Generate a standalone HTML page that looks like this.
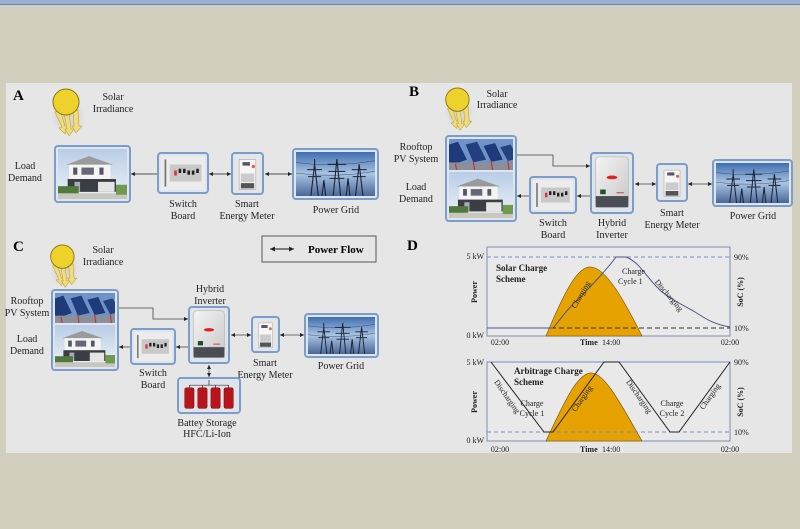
<!DOCTYPE html>
<html><head><meta charset="utf-8"><style>
html,body{margin:0;padding:0;background:#d3cfbe;}
svg{display:block;font-family:"Liberation Serif",serif;}
</style></head><body>
<svg width="800" height="529" viewBox="0 0 800 529" xmlns="http://www.w3.org/2000/svg">
<defs>
<linearGradient id="sky" x1="0" y1="0" x2="0" y2="1"><stop offset="0" stop-color="#b8cde6"/><stop offset="1" stop-color="#eef2f6"/></linearGradient>
<linearGradient id="gsky" x1="0" y1="0" x2="0" y2="1"><stop offset="0" stop-color="#3f6fb0"/><stop offset="0.5" stop-color="#a9c3e2"/><stop offset="1" stop-color="#4a6898"/></linearGradient>
<linearGradient id="inv" x1="0" y1="0" x2="1" y2="1"><stop offset="0" stop-color="#f4f4f4"/><stop offset="1" stop-color="#c8c8c8"/></linearGradient>
<radialGradient id="glow"><stop offset="0.5" stop-color="#d6d6d6"/><stop offset="1" stop-color="#e6e6e6" stop-opacity="0"/></radialGradient>
<symbol id="house" viewBox="0 0 100 70" preserveAspectRatio="none">
<rect width="100" height="70" fill="url(#sky)"/>
<polygon points="12,22 45,10 80,22" fill="#9a9a9a"/>
<rect x="16" y="22" width="60" height="20" fill="#f4f4f4"/>
<rect x="22" y="26" width="6" height="10" fill="#556"/><rect x="34" y="26" width="18" height="10" fill="#667"/><rect x="60" y="26" width="6" height="10" fill="#556"/>
<rect x="14" y="42" width="70" height="18" fill="#3a3d44"/>
<rect x="58" y="46" width="24" height="14" fill="#e4e4e4"/>
<rect x="24" y="46" width="8" height="14" fill="#aab"/>
<rect x="0" y="52" width="30" height="12" fill="#4f7a3a"/><rect x="0" y="62" width="100" height="8" fill="#c9c6bd"/>
<rect x="84" y="50" width="16" height="14" fill="#6f9a50"/>
</symbol>
<symbol id="pv" viewBox="0 0 100 45" preserveAspectRatio="none">
<rect width="100" height="45" fill="#6f93c8"/>
<polygon points="0,8 14,4 28,30 10,36 0,34" fill="#1f3a7a"/>
<polygon points="26,8 44,4 58,30 38,34" fill="#22407f"/>
<polygon points="54,10 72,6 84,30 66,33" fill="#1f3a7a"/>
<polygon points="80,12 96,8 100,14 100,30 92,32" fill="#24427f"/>
<rect x="0" y="34" width="100" height="11" fill="#8a8f9a"/>
<path d="M10 36 L12 45 M38 34 L40 45 M66 33 L68 45 M92 32 L94 45" stroke="#c33" stroke-width="2"/>
</symbol>
<symbol id="sw" viewBox="0 0 50 40" preserveAspectRatio="none">
<rect width="50" height="40" fill="#ececec"/>
<rect x="4" y="4" width="2" height="32" fill="#777"/>
<rect x="10" y="10" width="36" height="20" fill="#c9c9c9"/>
<rect x="15" y="17" width="3" height="6" fill="#d33"/>
<path d="M20 15h3v5h-3zM25 15h3v5h-3zM30 17h3v5h-3zM35 17h3v5h-3zM40 15h3v5h-3z" fill="#222"/>
</symbol>
<symbol id="meter" viewBox="0 0 30 40" preserveAspectRatio="none">
<rect width="30" height="40" fill="#e6e6e6"/>
<rect x="5" y="4" width="20" height="34" fill="#f6f6f6" stroke="#999" stroke-width="0.6"/>
<rect x="9" y="7" width="9" height="4" fill="#556"/>
<circle cx="22" cy="12" r="2" fill="#d63"/>
<rect x="7" y="20" width="16" height="10" fill="#ccc"/>
<rect x="7" y="31" width="16" height="6" fill="#555"/>
</symbol>
<symbol id="grid" viewBox="0 0 85 50" preserveAspectRatio="none">
<rect width="85" height="50" fill="url(#gsky)"/>
<g stroke="#1a2438" stroke-width="1.2" fill="none">
<path d="M16 50 L20 14 L24 50 M12 20 H28 M13 28 H27 M20 14 V8"/>
<path d="M40 50 L44 8 L48 50 M34 14 H54 M35 22 H53 M36 30 H52"/>
<path d="M64 50 L68 14 L72 50 M60 20 H76 M61 28 H75"/>
<path d="M28 50 L30 32 L32 50 M54 50 L56 30 L58 50"/>
<path d="M0 12 Q40 18 85 10 M0 24 Q40 30 85 22" stroke-width="0.4"/>
</g>
</symbol>
<symbol id="inverter" viewBox="0 0 42 60" preserveAspectRatio="none">
<rect width="42" height="60" fill="#dfe3ea"/>
<rect x="3" y="2" width="36" height="54" rx="4" fill="url(#inv)" stroke="#aaa" stroke-width="0.6"/>
<rect x="3" y="44" width="36" height="12" fill="#4a4d55"/>
<ellipse cx="21" cy="24" rx="6" ry="2" fill="#d22"/>
<rect x="8" y="37" width="6" height="5" fill="#1a4d2a"/>
<rect x="26" y="40" width="8" height="1" fill="#c33"/>
</symbol>
<symbol id="batt" viewBox="0 0 62 36" preserveAspectRatio="none">
<rect width="62" height="36" fill="#dfe3ea"/>
<path d="M10 6 H52 M10 6 V9 M24 6 V9 M38 6 V9 M52 6 V9 M31 0 V6" stroke="#333" stroke-width="0.8"/>
<g fill="#b8141c" stroke="#700" stroke-width="0.5">
<rect x="5" y="9" width="10" height="24" rx="2"/><rect x="19" y="9" width="10" height="24" rx="2"/><rect x="33" y="9" width="10" height="24" rx="2"/><rect x="47" y="9" width="10" height="24" rx="2"/></g>
</symbol>
<symbol id="sun" viewBox="0 0 40 50">
<ellipse cx="18" cy="28" rx="19" ry="21" fill="url(#glow)"/>
<g fill="#f0dc78" stroke="#b9a040" stroke-width="0.6">
<polygon points="5,24 10,22 15,38 18,37 15,46 9,40 12,39"/>
<polygon points="14,25 19,25 21,41 24,41 19,48 15,41 17,41"/>
<polygon points="23,23 28,22 29,38 32,38 26,45 22,38 24,38"/>
</g>
<circle cx="16" cy="14" r="13" fill="#ecd22a" stroke="#8a7310" stroke-width="1"/>
</symbol>
<marker id="ah" markerWidth="6" markerHeight="6" refX="5" refY="3" orient="auto"><path d="M0,0.5 L5,3 L0,5.5z" fill="#222"/></marker>
<marker id="ahs" markerWidth="6" markerHeight="6" refX="1" refY="3" orient="auto"><path d="M6,0.5 L1,3 L6,5.5z" fill="#222"/></marker>
</defs>

<rect x="0" y="0" width="800" height="4" fill="#9cb1cc"/>
<rect x="0" y="4" width="800" height="1" fill="#5b86c6"/>
<rect x="6" y="83" width="786" height="370" fill="#e6e6e6"/>

<!-- Panel A -->
<text x="13" y="100" font-size="15" font-weight="bold">A</text>
<use href="#sun" x="50" y="88" width="40" height="50"/>
<g font-size="10" text-anchor="middle" fill="#222">
<text x="113" y="100">Solar</text><text x="113" y="112">Irradiance</text>
<text x="25" y="169">Load</text><text x="25" y="181">Demand</text>
<text x="183" y="207">Switch</text><text x="183" y="219">Board</text>
<text x="247" y="207">Smart</text><text x="247" y="219">Energy Meter</text>
<text x="336" y="213">Power Grid</text>
</g>
<g stroke="#222" stroke-width="0.8" fill="none">
<line x1="158" y1="174" x2="131" y2="174" marker-end="url(#ah)"/>
<line x1="209" y1="174" x2="231" y2="174" marker-end="url(#ah)" marker-start="url(#ahs)"/>
<line x1="265" y1="174" x2="292" y2="174" marker-end="url(#ah)" marker-start="url(#ahs)"/>
</g>
<g stroke="#7d9dc9" stroke-width="2" fill="#dfe5ef">
<rect x="55" y="146" width="75" height="56" rx="3"/>
<rect x="158" y="153" width="50" height="40" rx="3"/>
<rect x="232" y="153" width="31" height="41" rx="3"/>
<rect x="293" y="149" width="85" height="50" rx="3"/>
</g>
<use href="#house" x="58" y="149" width="69" height="50"/>
<use href="#sw" x="161" y="156" width="44" height="34"/>
<use href="#meter" x="235" y="156" width="25" height="35"/>
<use href="#grid" x="296" y="152" width="79" height="44"/>

<!-- Panel B -->
<text x="409" y="96" font-size="15" font-weight="bold">B</text>
<use href="#sun" x="443" y="87" width="36" height="45"/>
<g font-size="10" text-anchor="middle" fill="#222">
<text x="497" y="97">Solar</text><text x="497" y="108">Irradiance</text>
<text x="416" y="150">Rooftop</text><text x="416" y="162">PV System</text>
<text x="416" y="190">Load</text><text x="416" y="202">Demand</text>
<text x="553" y="226">Switch</text><text x="553" y="238">Board</text>
<text x="612" y="226">Hybrid</text><text x="612" y="238">Inverter</text>
<text x="672" y="216">Smart</text><text x="672" y="228">Energy Meter</text>
<text x="753" y="219">Power Grid</text>
</g>
<g stroke="#444" stroke-width="0.8" fill="none">
<polyline points="517,155 553,155 553,166 590,166" marker-end="url(#ah)"/>
<line x1="590" y1="196" x2="577" y2="196" marker-end="url(#ah)"/>
<line x1="530" y1="196" x2="517" y2="196" marker-end="url(#ah)"/>
<line x1="635" y1="184" x2="656" y2="184" marker-end="url(#ah)" marker-start="url(#ahs)"/>
<line x1="688" y1="184" x2="712" y2="184" marker-end="url(#ah)" marker-start="url(#ahs)"/>
</g>
<g stroke="#7d9dc9" stroke-width="2" fill="#dfe5ef">
<rect x="446" y="136" width="70" height="85" rx="3"/>
<rect x="530" y="177" width="46" height="36" rx="3"/>
<rect x="591" y="153" width="42" height="60" rx="3"/>
<rect x="657" y="164" width="30" height="37" rx="3"/>
<rect x="713" y="160" width="79" height="46" rx="3"/>
</g>
<use href="#pv" x="449" y="139" width="64" height="31"/>
<use href="#house" x="449" y="172" width="64" height="46"/>
<use href="#sw" x="533" y="180" width="40" height="30"/>
<use href="#inverter" x="593" y="155" width="38" height="56"/>
<use href="#meter" x="660" y="167" width="24" height="31"/>
<use href="#grid" x="716" y="163" width="73" height="40"/>

<!-- Panel C -->
<text x="13" y="251" font-size="15" font-weight="bold">C</text>
<use href="#sun" x="48" y="244" width="36" height="45"/>
<g font-size="10" text-anchor="middle" fill="#222">
<text x="103" y="253">Solar</text><text x="103" y="265">Irradiance</text>
<text x="27" y="304">Rooftop</text><text x="27" y="316">PV System</text>
<text x="27" y="342">Load</text><text x="27" y="354">Demand</text>
<text x="153" y="376">Switch</text><text x="153" y="388">Board</text>
<text x="210" y="292">Hybrid</text><text x="210" y="304">Inverter</text>
<text x="265" y="366">Smart</text><text x="265" y="378">Energy Meter</text>
<text x="341" y="369">Power Grid</text>
<text x="207" y="426">Battey Storage</text><text x="207" y="437">HFC/Li-Ion</text>
</g>
<g stroke="#444" stroke-width="0.8" fill="none">
<polyline points="119,308 153,308 153,319 188,319" marker-end="url(#ah)"/>
<line x1="188" y1="347" x2="176" y2="347" marker-end="url(#ah)"/>
<line x1="131" y1="347" x2="119" y2="347" marker-end="url(#ah)"/>
<line x1="231" y1="335" x2="251" y2="335" marker-end="url(#ah)" marker-start="url(#ahs)"/>
<line x1="280" y1="335" x2="304" y2="335" marker-end="url(#ah)" marker-start="url(#ahs)"/>
<line x1="209" y1="365" x2="209" y2="377" marker-end="url(#ah)" marker-start="url(#ahs)"/>
</g>
<g stroke="#7d9dc9" stroke-width="2" fill="#dfe5ef">
<rect x="52" y="290" width="66" height="80" rx="3"/>
<rect x="131" y="329" width="44" height="35" rx="3"/>
<rect x="189" y="307" width="40" height="56" rx="3"/>
<rect x="252" y="317" width="27" height="35" rx="3"/>
<rect x="305" y="314" width="73" height="43" rx="3"/>
<rect x="178" y="378" width="62" height="35" rx="3"/>
</g>
<use href="#pv" x="55" y="293" width="60" height="30"/>
<use href="#house" x="55" y="325" width="60" height="42"/>
<use href="#sw" x="134" y="332" width="38" height="29"/>
<use href="#inverter" x="191" y="309" width="36" height="52"/>
<use href="#meter" x="255" y="320" width="21" height="29"/>
<use href="#grid" x="308" y="317" width="67" height="37"/>
<use href="#batt" x="180" y="380" width="58" height="31"/>

<!-- Legend -->
<rect x="262" y="236" width="114" height="26" fill="none" stroke="#555" stroke-width="1"/>
<line x1="270" y1="249" x2="294" y2="249" stroke="#111" stroke-width="1" marker-end="url(#ah)" marker-start="url(#ahs)"/>
<text x="308" y="253" font-size="11" font-weight="bold">Power Flow</text>

<!-- Panel D -->
<text x="407" y="250" font-size="15" font-weight="bold">D</text>
<g font-size="8" fill="#222">
<rect x="487" y="247" width="243" height="89" fill="#e9e9e9" stroke="#7d8fb0" stroke-width="1"/>
<path d="M546,336 C565,290 578,266 591,267 C606,268 624,300 642,336 Z" fill="#e6a200" stroke="#6b4c00" stroke-width="0.6"/>
<line x1="487" y1="257" x2="730" y2="257" stroke="#6f8fcf" stroke-width="1" stroke-dasharray="4,3"/>
<line x1="487" y1="328" x2="730" y2="328" stroke="#333" stroke-width="1" stroke-dasharray="5,3"/>
<path d="M487,328 L553,328 C560,320 565,312 575,302 C582,296 585,292 592,285 C600,276 608,268 616,257 L626,257 C640,262 648,280 662,292 C675,302 685,306 695,312 C705,318 712,324 730,327" fill="none" stroke="#4a5585" stroke-width="1"/>
<text x="484" y="259" text-anchor="end">5 kW</text><text x="484" y="338" text-anchor="end">0 kW</text>
<text x="734" y="260">90%</text><text x="734" y="331">10%</text>
<text x="500" y="345" text-anchor="middle">02:00</text><text x="730" y="345" text-anchor="middle">02:00</text>
<text x="580" y="345" font-weight="bold">Time</text><text x="602" y="345">14:00</text>
<text x="496" y="271" font-weight="bold" font-size="9">Solar Charge</text><text x="496" y="282" font-weight="bold" font-size="9">Scheme</text>
<text x="622" y="274">Charge</text><text x="618" y="284">Cycle 1</text>
<text transform="translate(477,292) rotate(-90)" text-anchor="middle" font-weight="bold">Power</text>
<text transform="translate(743,292) rotate(-90)" text-anchor="middle" font-weight="bold">SoC (%)</text>
<text transform="translate(583,296) rotate(-60)" text-anchor="middle">Charging</text>
<text transform="translate(667,297) rotate(50)" text-anchor="middle">Discharging</text>
<rect x="487" y="362" width="243" height="79" fill="#e9e9e9" stroke="#7d8fb0" stroke-width="1"/>
<path d="M546,441 C565,400 578,372 592,373 C606,374 624,410 642,441 Z" fill="#e6a200" stroke="#6b4c00" stroke-width="0.6"/>
<line x1="487" y1="362" x2="730" y2="362" stroke="#6f8fcf" stroke-width="1" stroke-dasharray="4,3"/>
<line x1="487" y1="432" x2="730" y2="432" stroke="#6f8fcf" stroke-width="1" stroke-dasharray="4,3"/>
<polyline points="491,362 544,432 553,432 604,362 619,362 670,432 679,432 730,362" fill="none" stroke="#222" stroke-width="1"/>
<text x="484" y="365" text-anchor="end">5 kW</text><text x="484" y="443" text-anchor="end">0 kW</text>
<text x="734" y="365">90%</text><text x="734" y="435">10%</text>
<text x="500" y="452" text-anchor="middle">02:00</text><text x="730" y="452" text-anchor="middle">02:00</text>
<text x="580" y="452" font-weight="bold">Time</text><text x="602" y="452">14:00</text>
<text x="514" y="374" font-weight="bold" font-size="9">Arbitrage Charge</text><text x="514" y="385" font-weight="bold" font-size="9">Scheme</text>
<text x="532" y="406" text-anchor="middle">Charge</text><text x="532" y="416" text-anchor="middle">Cycle 1</text>
<text x="672" y="406" text-anchor="middle">Charge</text><text x="672" y="416" text-anchor="middle">Cycle 2</text>
<text transform="translate(477,402) rotate(-90)" text-anchor="middle" font-weight="bold">Power</text>
<text transform="translate(743,402) rotate(-90)" text-anchor="middle" font-weight="bold">SoC (%)</text>
<text transform="translate(505,398) rotate(55)" text-anchor="middle">Discharging</text>
<text transform="translate(584,400) rotate(-55)" text-anchor="middle">Charging</text>
<text transform="translate(637,398) rotate(55)" text-anchor="middle">Discharging</text>
<text transform="translate(712,398) rotate(-55)" text-anchor="middle">Charging</text>
</g>
</svg>
</body></html>
